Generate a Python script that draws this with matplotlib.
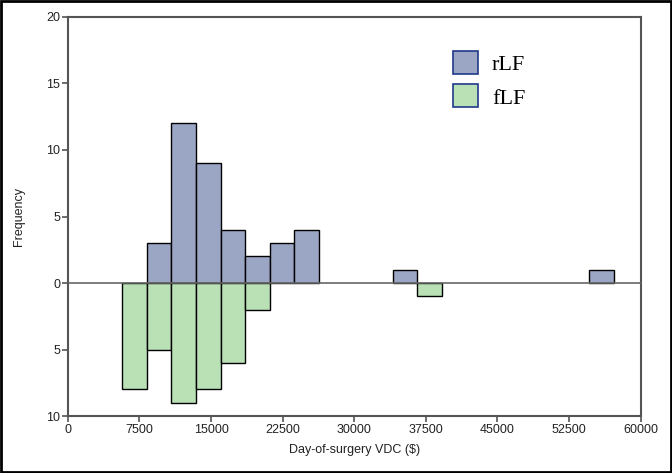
import matplotlib
matplotlib.use("Agg")
import matplotlib.pyplot as plt
from matplotlib.patches import Rectangle
import numpy as np

# Data
bin_start = 5700
bin_width = 2575
rlf_counts = [0, 3, 12, 9, 4, 2, 3, 4, 0, 0, 0, 1, 0, 0, 0, 0, 0, 0, 0, 1]
flf_counts = [8, 5, 9, 8, 6, 2, 0, 0, 0, 0, 0, 0, 1, 0, 0, 0, 0, 0, 0, 0]
x_ticks = [0, 7500, 15000, 22500, 30000, 37500, 45000, 52500, 60000]
y_ticks = [-10, -5, 0, 5, 10, 15, 20]
y_ticklabels = ["10", "5", "0", "5", "10", "15", "20"]
series_names = ["rLF", "fLF"]

blue = "#9ba5c4"
green = "#b9e1b5"
spine_col = "#555555"

fig = plt.figure(figsize=(6.72, 4.73), dpi=100)
ax = fig.add_axes([67.8/672, 1-416/473, (640.7-67.8)/672, (416-17)/473])

lefts = bin_start + bin_width*np.arange(len(rlf_counts))
rl = np.array(rlf_counts); fl = np.array(flf_counts)
m = rl > 0
ax.bar(lefts[m], rl[m], width=bin_width, align="edge", color=blue,
       edgecolor="black", linewidth=1.0, zorder=3)
m = fl > 0
ax.bar(lefts[m], -fl[m], width=bin_width, align="edge", color=green,
       edgecolor="black", linewidth=1.0, zorder=3)
ax.axhline(0, color="#666666", linewidth=1.2, zorder=4)

ax.set_xlim(0, 60000)
ax.set_ylim(-10, 20)
ax.set_xticks(x_ticks)
ax.set_xticklabels([str(t) for t in x_ticks])
ax.set_yticks(y_ticks)
ax.set_yticklabels(y_ticklabels)
for s in ax.spines.values():
    s.set_color(spine_col)
    s.set_linewidth(1.5)
ax.tick_params(direction="out", length=4, width=1.2, color=spine_col,
               labelsize=9, pad=1.5, labelcolor="#222222")
for lab in ax.get_xticklabels() + ax.get_yticklabels():
    lab.set_fontfamily("Liberation Sans")
ax.set_xlabel("Day-of-surgery VDC ($)", fontsize=9, family="Liberation Sans",
              labelpad=6, color="#222222")
ax.set_ylabel("Frequency", fontsize=9, family="Liberation Sans", labelpad=15,
              color="#222222")

# Legend drawn manually in figure coords
for i, (name, col) in enumerate(zip(series_names, [blue, green])):
    top = 51 + i*33
    fig.patches.append(Rectangle((453/672, 1-(top+23.5)/473), 25/672, 23.5/473,
                                 transform=fig.transFigure, facecolor=col,
                                 edgecolor="#1f3a8a", linewidth=1.2))
    fig.text(492/672, 1-(top+15)/473, name, fontsize=16,
             family="Liberation Serif", va="center", ha="left")

# outer frame
fig.patches.append(Rectangle((0.0015, 0.002), 0.997, 0.996, transform=fig.transFigure,
                             fill=False, edgecolor="black", linewidth=2))

fig.savefig("out.png", dpi=100)
